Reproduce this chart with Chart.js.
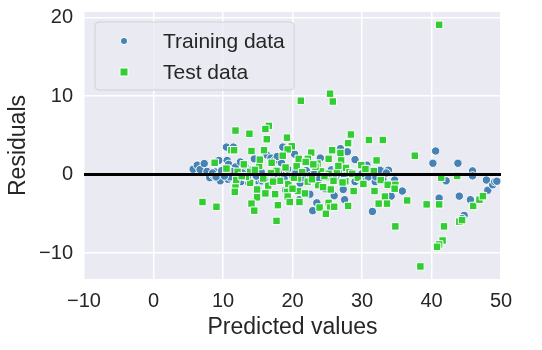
<!DOCTYPE html>
<html>
<head>
<meta charset="utf-8">
<script src="https://cdn.jsdelivr.net/npm/chart.js@4/dist/chart.umd.min.js"></script>
<style>
    html, body { margin: 0; padding: 0; background: #ffffff; }
    #wrap { width: 542px; height: 350px; }
</style>
</head>
<body>
<div id="wrap"><canvas id="residChart" width="542" height="350"></canvas></div>
<script>
// Training data (predicted, residual)
const trainX = [5.7, 6.3, 6.7, 7.3, 7.7, 8.1, 8.6, 8.9, 9.2, 9.4, 9.6, 10.5, 10.6, 10.7, 10.8, 11.0, 11.5, 11.8, 12.2, 12.6,
    13.2, 13.7, 13.9, 15.2, 15.6, 16.3, 16.9, 17.4, 18.4, 18.6, 18.5, 19.7, 21.1, 22.9, 23.5, 24.7, 26.9, 27.9, 27.3, 27.5,
    29.0, 30.2, 30.9, 30.7, 31.5, 31.9, 32.6, 33.8, 34.7, 34.2, 35.8, 40.2, 40.6, 41.1, 42.1, 43.8, 44.0, 45.9, 45.9, 45.6,
    44.7, 44.4, 47.9, 48.1, 48.8, 49.1, 49.4,
    8.5, 9.0, 9.8, 10.2, 11.3, 12.0, 12.8, 13.5, 14.2, 14.8, 15.5, 16.0, 16.8, 17.3, 18.0, 18.8, 19.3, 20.0, 20.5, 21.5,
    22.0, 22.6, 23.2, 23.8, 24.3, 25.0, 25.6, 26.2, 26.8, 27.5, 28.3, 29.5, 30.0, 31.2, 32.0, 33.0, 33.5,
    14.5, 17.8, 20.3, 22.5, 24.0, 26.0, 21.0, 19.0, 15.0, 29.0, 12.5];
const trainY = [0.68, 1.2, 0.64, 1.4, 0.4, -0.4, -0.1, 0.33, -0.5, 1.8, -0.8, 3.5, 1.8, -0.6, 1.3, -0.3, 3.5, 0.97, -0.3, -0.9,
    1.0, -1.07, 0.55, -1.06, -0.8, 2.5, 2.1, 1.8, 1.5, 3.5, -0.1, 0.1, -1.1, -4.6, -3.6, -1.8, 3.3, 2.9, -1.9, -3.2,
    -0.9, -0.9, -0.3, 1.2, -4.7, -0.9, 0.55, 0.55, -0.7, -2.75, -2.1, 1.44, 3.0, -3.0, -0.8, 1.44, -2.75, 0.47, -0.17, -3.2,
    -5.2, -5.6, -0.7, -2.0, -1.3, -0.9, -0.85,
    0.2, -0.3, 0.5, -0.2, 0.4, -0.5, 0.2, -0.4, 0.6, -0.2, 0.3, -0.6, 0.1, -0.3, 0.4, -0.5, 0.7, -0.2, 0.3, -0.4,
    0.5, -0.1, 0.2, -0.6, 0.4, -0.3, 0.6, -0.4, 0.2, -0.2, 0.3, -0.5, 0.1, 0.5, -0.3, -0.6, 0.2,
    2.0, 2.3, 2.6, -2.5, 2.1, -2.7, -3.2, -2.0, -1.8, 1.9, 1.6];

// Test data (predicted, residual)
const testX = [41.1, 25.4, 25.8, 21.2, 16.6, 16.1, 11.8, 13.8, 16.3, 19.2, 28.4, 31.0, 33.0, 28.0, 19.9, 25.7, 11.2, 11.6, 14.1, 15.9,
    19.3, 22.7, 26.9, 37.6, 20.9, 22.2, 25.2, 32.1, 27.0, 13.0, 17.0, 8.8, 15.2, 20.6, 23.6, 29.9, 27.7, 10.6, 12.1, 13.9,
    17.7, 24.1, 31.7, 28.2, 25.2, 43.7, 41.4, 11.9, 20.8, 22.2, 13.9, 19.4, 16.5, 23.7, 25.9, 27.6, 32.7, 33.7, 34.8, 11.8,
    11.7, 20.8, 21.8, 25.5, 28.8, 31.8, 34.7, 14.9, 19.2, 16.1, 17.5, 14.9, 19.3, 33.3, 36.5, 32.4, 33.6, 7.05, 19.6, 21.0,
    14.1, 17.9, 25.2, 28.0, 39.3, 41.1, 46.0, 9.06, 23.9, 25.4, 26.0, 14.5, 24.8, 17.7, 34.8, 41.8, 44.0, 41.6, 41.1, 40.8,
    38.4, 46.9, 47.4, 44.4, 10.5,
    13.3, 14.6, 15.8, 16.9, 18.2, 19.0, 20.2, 21.4, 22.8, 23.3, 24.6, 26.4, 27.2, 28.6, 29.4, 30.5, 18.6, 21.9, 24.4, 26.6,
    15.3, 17.2, 20.0, 23.0, 12.7, 30.2];
const testY = [19.07, 10.3, 9.3, 9.4, 6.2, 5.8, 5.6, 5.2, 4.5, 4.7, 5.1, 4.4, 4.4, 4.0, 3.6, 3.1, 3.1, 3.1, 3.0, 3.1,
    3.2, 2.8, 2.75, 2.4, 2.0, 2.0, 2.0, 1.8, 1.8, 1.3, 1.5, 1.5, 1.1, 1.05, 1.4, 1.2, 0.85, 0.6, 0.35, 0.35,
    0.47, 0.4, 0.45, 0.3, 0.1, -0.17, -0.4, -0.7, -0.5, -0.9, -1.06, -1.2, -1.4, -1.35, -0.8, -0.85, -0.7, -1.3, -1.3, -1.65,
    -2.2, -2.1, -2.4, -1.9, -2.1, -2.1, -1.8, -1.9, -2.2, -2.4, -2.5, -2.9, -2.8, -2.8, -3.3, -3.7, -3.7, -3.5, -3.5, -3.5,
    -3.7, -3.9, -3.6, -4.0, -3.8, -3.8, -4.0, -4.1, -4.2, -4.2, -4.1, -4.6, -5.0, -5.9, -6.6, -6.6, -6.0, -8.4, -8.9, -9.2,
    -11.7, -3.2, -2.75, -5.8, 0.76,
    -0.3, 0.6, -0.5, 0.2, -0.8, 0.9, -0.4, 0.3, -0.6, 1.0, -0.2, 0.5, -1.0, 0.1, -0.4, 0.7, 2.4, 1.6, -1.6, 1.1,
    1.9, -0.9, -1.8, 1.3, -0.2, -1.2];

const xTicks = [-10, 0, 10, 20, 30, 40, 50];
const yTicks = [-10, 0, 10, 20];

const toPoints = (xs, ys) => xs.map((x, i) => ({ x: x, y: ys[i] }));
const fmt = v => (v < 0 ? '\u2212' + Math.abs(v) : String(v));

// legend drawn inside the plot, upper left (like matplotlib)
const innerLegend = {
    id: 'innerLegend',
    afterDraw(chart) {
        const ctx = chart.ctx;
        const a = chart.chartArea;
        const x0 = a.left + 11, y0 = a.top + 10, w = 199, h = 68;
        ctx.save();
        ctx.beginPath();
        ctx.roundRect(x0, y0, w, h, 4);
        ctx.fillStyle = 'rgba(234,234,242,0.8)';
        ctx.fill();
        ctx.strokeStyle = '#d0d0d8';
        ctx.lineWidth = 1;
        ctx.stroke();
        ctx.font = '21px "Liberation Sans", Arial, sans-serif';
        ctx.textBaseline = 'middle';
        const rows = [chart.data.datasets[0], chart.data.datasets[1]];
        rows.forEach((ds, i) => {
            const cy = y0 + 19 + i * 31;
            const cx = x0 + 29;
            ctx.fillStyle = ds.backgroundColor;
            ctx.strokeStyle = '#ffffff';
            ctx.lineWidth = 1;
            ctx.beginPath();
            if (ds.pointStyle === 'rect') {
                ctx.rect(cx - 4, cy - 4, 8, 8);
            } else {
                ctx.arc(cx, cy, 3.6, 0, Math.PI * 2);
            }
            ctx.fill();
            ctx.stroke();
            ctx.fillStyle = '#262626';
            ctx.fillText(ds.label, x0 + 68, cy + 1);
        });
        ctx.restore();
    }
};

Chart.defaults.font.family = '"Liberation Sans", Arial, sans-serif';
Chart.defaults.color = '#262626';

new Chart(document.getElementById('residChart'), {
    type: 'scatter',
    data: {
        datasets: [{
            label: 'Training data',
            data: toPoints(trainX, trainY),
            backgroundColor: 'steelblue',
            borderColor: '#ffffff',
            borderWidth: 1,
            pointStyle: 'circle',
            pointRadius: 4.2,
            order: 3
        }, {
            label: 'Test data',
            data: toPoints(testX, testY),
            backgroundColor: 'limegreen',
            borderColor: '#ffffff',
            borderWidth: 1,
            pointStyle: 'rect',
            pointRadius: 5.3,
            order: 2
        }, {
            label: 'zero',
            type: 'line',
            data: [{ x: -10, y: 0 }, { x: 50, y: 0 }],
            borderColor: '#000000',
            borderWidth: 3,
            pointRadius: 0,
            order: 1
        }]
    },
    options: {
        responsive: false,
        animation: false,
        layout: { padding: { top: 12, right: 41, left: 0, bottom: 0 } },
        plugins: {
            legend: { display: false },
            tooltip: { enabled: false }
        },
        scales: {
            x: {
                type: 'linear',
                min: -10,
                max: 50,
                afterFit: s => { s.height = 71; s.paddingLeft = 0; s.paddingRight = 0; },
                afterBuildTicks: s => { s.ticks = xTicks.map(v => ({ value: v })); },
                grid: { color: '#ffffff', lineWidth: 1.5, drawTicks: false },
                border: { display: false },
                ticks: { padding: 10, font: { size: 20 }, color: '#262626', callback: v => fmt(v) },
                title: { display: true, text: 'Predicted values', font: { size: 23 }, color: '#262626', padding: { top: 0, bottom: 9 } }
            },
            y: {
                min: -13.3,
                max: 20.7,
                afterFit: s => { s.width = 84; s.paddingTop = 0; s.paddingBottom = 0; },
                afterBuildTicks: s => { s.ticks = yTicks.map(v => ({ value: v })); },
                grid: { color: '#ffffff', lineWidth: 1.5, drawTicks: false },
                border: { display: false },
                ticks: { padding: 11, font: { size: 20 }, color: '#262626', callback: v => fmt(v) },
                title: { display: true, text: 'Residuals', font: { size: 23 }, color: '#262626', padding: { top: 5, bottom: 0 } }
            }
        }
    },
    plugins: [{
        id: 'plotBg',
        beforeDraw(chart) {
            const a = chart.chartArea;
            chart.ctx.save();
            chart.ctx.fillStyle = '#eaeaf2';
            chart.ctx.fillRect(a.left, a.top, a.right - a.left, a.bottom - a.top);
            chart.ctx.restore();
        }
    }, innerLegend]
});
</script>
</body>
</html>
